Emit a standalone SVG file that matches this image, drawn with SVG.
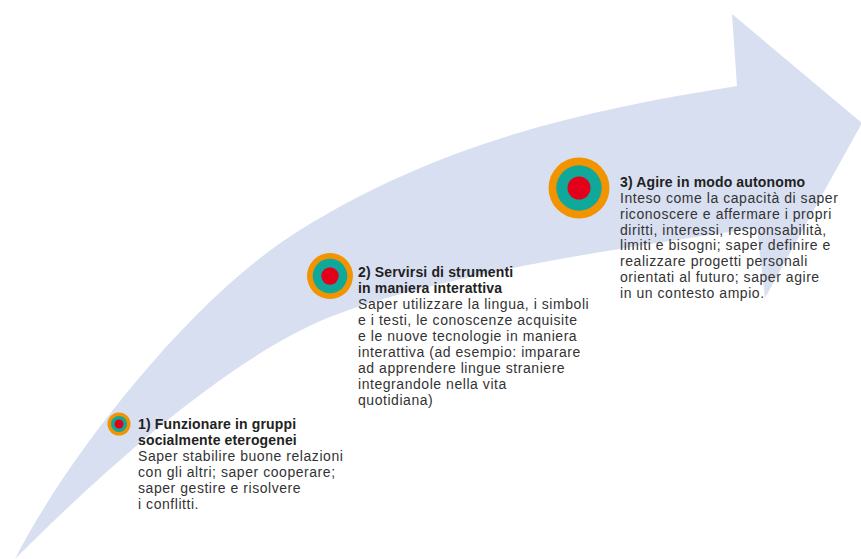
<svg xmlns="http://www.w3.org/2000/svg" width="861" height="559" viewBox="0 0 861 559">
  <style>
    .t { font-family: "Liberation Sans", Arial, sans-serif; font-size: 14px; fill: #333333; letter-spacing: 0.55px; }
    .b { font-family: "Liberation Sans", Arial, sans-serif; font-size: 14px; font-weight: bold; fill: #222222; letter-spacing: 0.15px; }
    .o { fill: #f29400; }
    .g { fill: #0fa89b; }
    .r { fill: #e2001a; }
  </style>
  <rect width="861" height="559" fill="#ffffff"/>
  <g id="arrow">
    <path d="M15,559 C85,489 220,361 330,317 C430,277 617,248 757,228 L765,298 L862,123 L732,14 L737,86 C592,109 445,140 300,230 C190,298 65,460 15,559 Z" fill="#d8dff1"/>
  </g>
  <g id="connectors"></g>
  <g id="node1">
    <circle class="o" cx="119" cy="424" r="11.5"/>
    <circle class="g" cx="119" cy="424" r="8"/>
    <circle class="r" cx="119" cy="424" r="4.5"/>
    <text x="138" y="429" class="b">1) Funzionare in gruppi</text>
    <text x="138" y="445" class="b">socialmente eterogenei</text>
    <text x="138" y="461" class="t">Saper stabilire buone relazioni</text>
    <text x="138" y="477" class="t">con gli altri; saper cooperare;</text>
    <text x="138" y="493" class="t">saper gestire e risolvere</text>
    <text x="138" y="509" class="t">i conflitti.</text>
  </g>
  <g id="node2">
    <circle class="o" cx="330" cy="276" r="23"/>
    <circle class="g" cx="330" cy="276" r="17.3"/>
    <circle class="r" cx="330" cy="276" r="8.7"/>
    <text x="358" y="277" class="b">2) Servirsi di strumenti</text>
    <text x="358" y="293" class="b">in maniera interattiva</text>
    <text x="358" y="309" class="t">Saper utilizzare la lingua, i simboli</text>
    <text x="358" y="325" class="t">e i testi, le conoscenze acquisite</text>
    <text x="358" y="341" class="t">e le nuove tecnologie in maniera</text>
    <text x="358" y="357" class="t">interattiva (ad esempio: imparare</text>
    <text x="358" y="373" class="t">ad apprendere lingue straniere</text>
    <text x="358" y="389" class="t">integrandole nella vita</text>
    <text x="358" y="405" class="t">quotidiana)</text>
  </g>
  <g id="node3">
    <circle class="o" cx="579" cy="188" r="30.5"/>
    <circle class="g" cx="579" cy="188" r="22.7"/>
    <circle class="r" cx="579" cy="188" r="11.5"/>
    <text x="620" y="187" class="b">3) Agire in modo autonomo</text>
    <text x="620" y="203" class="t">Inteso come la capacità di saper</text>
    <text x="620" y="219" class="t">riconoscere e affermare i propri</text>
    <text x="620" y="235" class="t">diritti, interessi, responsabilità,</text>
    <text x="620" y="250" class="t">limiti e bisogni; saper definire e</text>
    <text x="620" y="266" class="t">realizzare progetti personali</text>
    <text x="620" y="282" class="t">orientati al futuro; saper agire</text>
    <text x="620" y="298" class="t">in un contesto ampio.</text>
  </g>
</svg>
